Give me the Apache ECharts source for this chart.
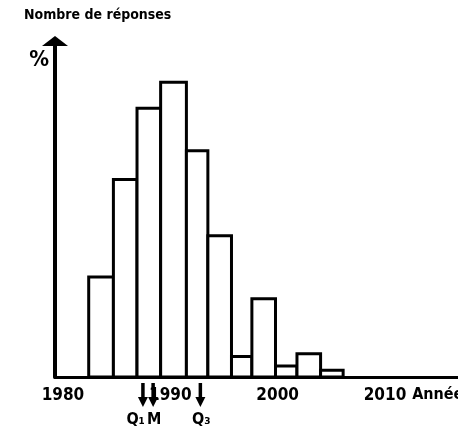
<!DOCTYPE html>
<html><head><meta charset="utf-8">
<script src="https://cdn.jsdelivr.net/npm/echarts@6/dist/echarts.min.js"></script>
<style>html,body{margin:0;padding:0;background:#fff}#c{width:458px;height:431px}</style>
</head><body><div id="c"></div>
<script>
// Histogram bins (years) and heights (% of answers)
const binStarts = [1982.4, 1984.7, 1986.9, 1989.1, 1991.5, 1993.5, 1995.7, 1997.6, 1999.8, 2001.8, 2004.0];
const binEnds   = [1984.7, 1986.9, 1989.1, 1991.5, 1993.5, 1995.7, 1997.6, 1999.8, 2001.8, 2004.0, 2006.1];
const percentages = [7.3, 14.4, 19.6, 21.5, 16.5, 10.3, 1.5, 5.7, 0.8, 1.7, 0.5];
const yearTicks = [1980, 1990, 2000, 2010];
const quartileYears = [1987.45, 1988.4, 1992.8];
const quartileLabels = ['Q₁', 'M', 'Q₃'];

const FONT = '"DejaVu Sans Condensed", "Liberation Sans Narrow", sans-serif';
const chart = echarts.init(document.getElementById('c'), null, {renderer: 'canvas'});

const binData = binStarts.map((s, i) => [s, binEnds[i], percentages[i]]);
const quartData = quartileYears.map(y => [y, 0]);
const labelAnchor = {'Q₁': ['right', 2], 'M': ['left', -6], 'Q₃': ['center', 1]};

chart.setOption({
  animation: false,
  backgroundColor: '#fff',
  title: {
    text: 'Nombre de réponses', left: 24, top: 8, padding: 0,
    textStyle: {fontFamily: FONT, fontSize: 14, fontWeight: 'bold', color: '#000'}
  },
  grid: {left: 55, right: 0, top: 41, bottom: 54, outerBoundsMode: 'none', containLabel: false},
  xAxis: {
    type: 'value', min: 1979.26, max: 2016.8,
    name: 'Années', nameLocation: 'end', nameGap: -48,
    nameTextStyle: {fontFamily: FONT, fontSize: 16, fontWeight: 'bold', color: '#000', align: 'left', verticalAlign: 'top', padding: [10, 0, 0, 0]},
    axisLine: {show: true, lineStyle: {color: '#000', width: 3}},
    axisTick: {show: false},
    splitLine: {show: false},
    axisLabel: {
      customValues: yearTicks, margin: 10,
      fontFamily: FONT, fontSize: 17, fontWeight: 'bold', color: '#000',
      formatter: v => String(v)
    }
  },
  yAxis: {
    type: 'value', min: 0, max: 24.5,
    name: '%', nameLocation: 'end', nameGap: -8,
    nameTextStyle: {fontFamily: FONT, fontSize: 22, fontWeight: 'bold', color: '#000', align: 'right', verticalAlign: 'top', padding: [0, 6, 0, 0]},
    axisLine: {show: true, symbol: ['none', 'triangle'], symbolSize: [26, 10], lineStyle: {color: '#000', width: 4}},
    axisTick: {show: false},
    axisLabel: {show: false},
    splitLine: {show: false}
  },
  series: [
    {
      type: 'custom', data: binData, encode: {x: [0, 1], y: 2},
      renderItem: (params, api) => {
        const p0 = api.coord([api.value(0), api.value(2)]);
        const p1 = api.coord([api.value(1), 0]);
        return {type: 'rect', shape: {x: p0[0], y: p0[1], width: p1[0] - p0[0], height: p1[1] - p0[1]},
                style: {fill: '#fff', stroke: '#000', lineWidth: 3}};
      }
    },
    {
      type: 'custom', data: quartData, clip: false, encode: {x: 0, y: 1},
      renderItem: (params, api) => {
        const p = api.coord([api.value(0), 0]);
        const x = p[0], y = p[1];
        const lab = quartileLabels[params.dataIndex];
        const a = labelAnchor[lab];
        return {type: 'group', children: [
          {type: 'line', shape: {x1: x, y1: y + 6, x2: x, y2: y + 22}, style: {stroke: '#000', lineWidth: 3.5}},
          {type: 'polygon', shape: {points: [[x - 5, y + 20], [x + 5, y + 20], [x, y + 30]]}, style: {fill: '#000'}},
          {type: 'text', x: x + a[1], y: y + 43, style: {text: lab, fontFamily: FONT, fontSize: 16, fontWeight: 'bold',
            fill: '#000', align: a[0], verticalAlign: 'middle'}}
        ]};
      }
    }
  ]
});
</script></body></html>
